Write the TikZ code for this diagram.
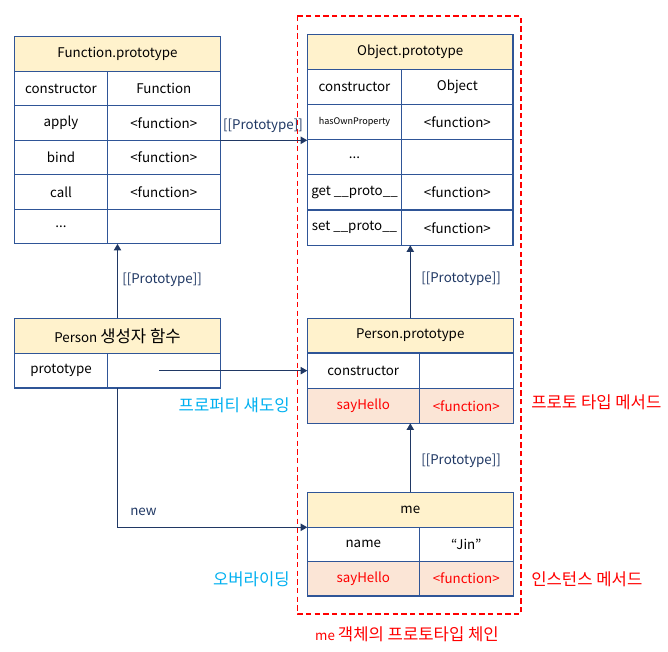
\documentclass[tikz,border=0pt]{standalone}
\usepackage{fontspec}
\setmainfont{Noto Sans CJK KR}
\newfontfamily\kr[Scale=1.25]{Noto Sans CJK KR}
\usetikzlibrary{arrows.meta}
\definecolor{hdr}{HTML}{FFF2CC}
\definecolor{rowred}{HTML}{FBE5D6}
\definecolor{bord}{HTML}{2F5597}
\definecolor{navy}{HTML}{203864}
\definecolor{cyanT}{HTML}{00B0F0}
\definecolor{redT}{HTML}{FF0000}
\newcommand{\mycell}[7]{\node[cellbox,#6,minimum width=#4*0.75pt,minimum height=#5*0.75pt] (#1) at (#2,#3) {#7};}
\tikzset{
  cellbox/.style={draw=bord,line width=0.9pt,fill=white,anchor=north west,inner sep=0pt,outer sep=0pt,text=black},
  head/.style={fill=hdr},
  redrow/.style={fill=rowred,text=redT},
  plain/.style={},
  arr/.style={draw=navy,line width=0.9pt,-{Triangle[width=5.5pt,length=5pt]}},
  lbl/.style={text=navy,inner sep=0pt},
}
\begin{document}
\begin{tikzpicture}[x=0.75pt,y=-0.75pt,font=\fontsize{10}{12}\selectfont]
\useasboundingbox (0,0) rectangle (668,652);
% dashed frame
\draw[redT,line width=0.8pt,dash pattern=on 4pt off 2.5pt] (297.3,16) rectangle (521,614);
% Function.prototype
\mycell{fpHead}{14.7}{36.3}{205.6}{35}{head}{Function.prototype}
\mycell{fpConK}{14.7}{71.3}{92.6}{34.5}{plain}{constructor}
\mycell{fpConV}{107.3}{71.3}{113}{34.5}{plain}{Function}
\mycell{fpApplyK}{14.7}{105.8}{92.6}{34.5}{plain}{apply}
\mycell{fpApplyV}{107.3}{105.8}{113}{34.5}{plain}{<function>}
\mycell{fpBindK}{14.7}{140.3}{92.6}{34.5}{plain}{bind}
\mycell{fpBindV}{107.3}{140.3}{113}{34.5}{plain}{<function>}
\mycell{fpCallK}{14.7}{174.8}{92.6}{34.5}{plain}{call}
\mycell{fpCallV}{107.3}{174.8}{113}{34.5}{plain}{<function>}
\mycell{fpDotsK}{14.7}{209.3}{92.6}{34.5}{plain}{...}
\mycell{fpDotsV}{107.3}{209.3}{113}{34.5}{plain}{}
% Object.prototype
\mycell{opHead}{307.3}{34.3}{205.7}{35}{head}{Object.prototype}
\mycell{opConK}{307.3}{69.3}{94.4}{35.2}{plain}{constructor}
\mycell{opConV}{401.7}{69.3}{111.3}{35.2}{plain}{Object}
\mycell{opHasK}{307.3}{104.5}{94.4}{35.2}{plain}{{\fontsize{6.8}{8}\selectfont hasOwnProperty}}
\mycell{opHasV}{401.7}{104.5}{111.3}{35.2}{plain}{<function>}
\mycell{opDotsK}{307.3}{139.7}{94.4}{35.2}{plain}{...}
\mycell{opDotsV}{401.7}{139.7}{111.3}{35.2}{plain}{}
\mycell{opGetK}{307.3}{174.9}{94.4}{35.2}{plain}{get \_\_proto\_\_}
\mycell{opGetV}{401.7}{174.9}{111.3}{35.2}{plain}{<function>}
\mycell{opSetK}{307.3}{210.1}{94.4}{35.2}{plain}{set \_\_proto\_\_}
\mycell{opSetV}{401.7}{210.1}{111.3}{35.2}{plain}{<function>}
% Person constructor
\mycell{pcHead}{14.7}{318.3}{205.6}{35}{head}{Person {\kr 생성자 함수}}
\mycell{pcProtoK}{14.7}{353.3}{92.6}{34.7}{plain}{prototype}
\mycell{pcProtoV}{107.3}{353.3}{113}{34.7}{plain}{}
% Person.prototype
\mycell{ppHead}{307.3}{318.3}{206}{34.7}{head}{Person.prototype}
\mycell{ppConK}{307.3}{353}{112}{35.3}{plain}{constructor}
\mycell{ppConV}{419.3}{353}{94}{35.3}{plain}{}
\mycell{ppSayK}{307.3}{388.3}{112}{35}{redrow}{sayHello}
\mycell{ppSayV}{419.3}{388.3}{94}{35}{redrow}{<function>}
% me
\mycell{meHead}{307.3}{492.3}{206}{35}{head}{me}
\mycell{meNameK}{307.3}{527.3}{112}{34}{plain}{name}
\mycell{meNameV}{419.3}{527.3}{94}{34}{plain}{“Jin”}
\mycell{meSayK}{307.3}{561.3}{112}{34.7}{redrow}{sayHello}
\mycell{meSayV}{419.3}{561.3}{94}{34.7}{redrow}{<function>}
% arrows
\draw[arr] (fpBindV.north east) -- (fpBindV.north east -| opDotsK.west);
\draw[arr] (pcHead.north) -- (pcHead.north |- fpDotsK.south);
\draw[arr] (ppHead.north) -- (ppHead.north |- opSetK.south);
\draw[arr] (meHead.north) -- (meHead.north |- ppSayK.south);
\draw[arr] ([xshift=-3.5pt]pcProtoV.center) -- (ppConK.west);
\draw[arr] (pcHead.center |- pcProtoK.south) |- (meNameK.north west);
% labels
\node[lbl] (l1) at (263,126) {[[Prototype]]};
\node[lbl,anchor=west] (l2) at (122,280) {[[Prototype]]};
\node[lbl,anchor=west] (l3) at (421,279) {[[Prototype]]};
\node[lbl,anchor=west] (l4) at (421,461) {[[Prototype]]};
\node[lbl,anchor=west] (lnew) at (130,512) {new};
\node[text=cyanT,anchor=east,inner sep=0pt] (shadow) at (290,405) {\kr 프로퍼티 섀도잉};
\node[text=cyanT,anchor=east,inner sep=0pt] (override) at (290,579) {\kr 오버라이딩};
\node[text=redT,anchor=west,inner sep=0pt] (protom) at (531,402) {\kr 프로토 타입 메서드};
\node[text=redT,anchor=west,inner sep=0pt] (instm) at (531,579) {\kr 인스턴스 메서드};
\node[text=redT,inner sep=0pt] (chain) at (407,634) {me {\kr 객체의 프로토타입 체인}};
\end{tikzpicture}
\end{document}
